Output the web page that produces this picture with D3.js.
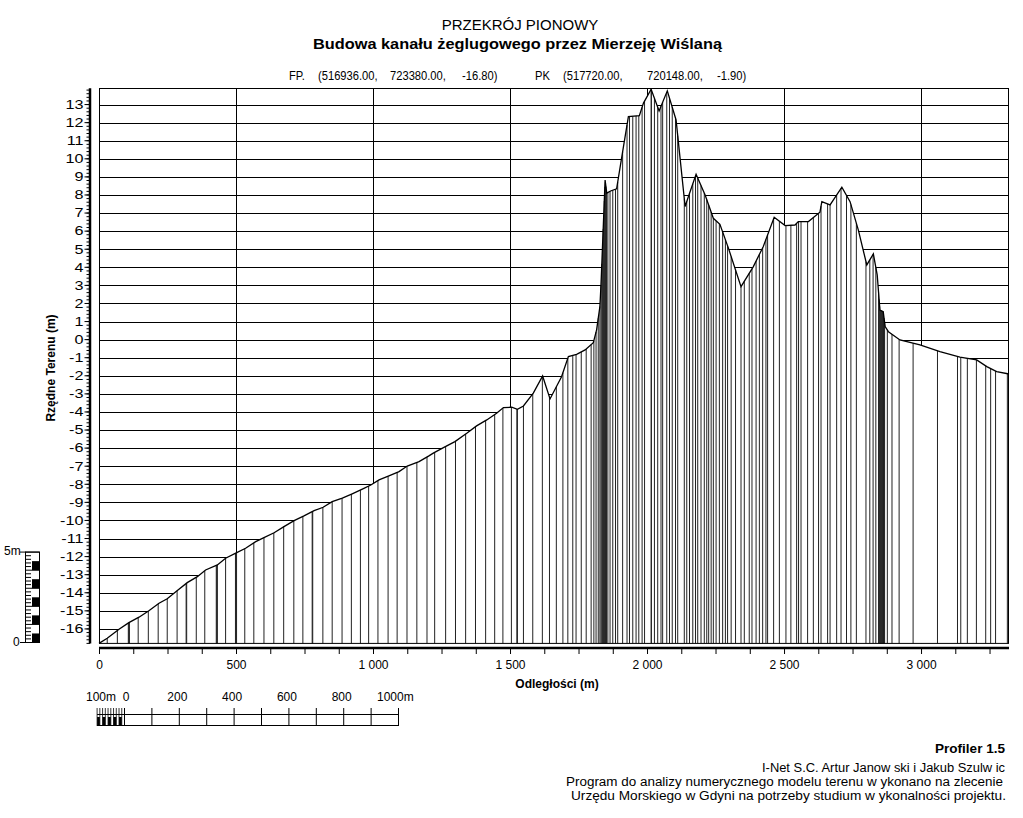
<!DOCTYPE html>
<html><head><meta charset="utf-8">
<script src="https://cdn.jsdelivr.net/npm/d3@7"></script>
<style>
body{margin:0;background:#fff}
svg{display:block}
text{font-family:"Liberation Sans",Arial,sans-serif;fill:#000}
</style>
</head><body>
<svg id="c" width="1023" height="818"></svg>
<script>
// ---------- DATA ----------
const titleMain = "PRZEKRÓJ PIONOWY";
const titleSub = "Budowa kanału żeglugowego przez Mierzeję Wiślaną";
const startPoint = ["FP.", "(516936.00,", "723380.00,", "-16.80)"];
const endPoint = ["PK", "(517720.00,", "720148.00,", "-1.90)"];

// profile vertices: distance (m) and terrain ordinate (m)
const profileDist = [0, 30, 73, 109, 146, 182, 219, 249, 286, 322, 359, 389, 432, 462, 499, 535, 572, 602, 639, 675,
  712, 748, 785, 818, 851, 888, 924, 961, 992, 1022, 1058, 1095, 1125, 1168, 1204, 1220, 1257, 1299, 1342, 1378,
  1415, 1451, 1476, 1506, 1527, 1549, 1585, 1619, 1646, 1688, 1713, 1743, 1774, 1804, 1816, 1828, 1832, 1847, 1853, 1867,
  1889, 1914, 1932, 1972, 1987, 2015, 2044, 2074, 2106, 2139, 2153, 2179, 2212, 2242, 2266, 2297, 2343, 2388, 2424, 2464,
  2504, 2540, 2552, 2589, 2631, 2638, 2668, 2711, 2741, 2771, 2802, 2826, 2840, 2850, 2862, 2869, 2881, 2923, 2996, 3069,
  3142, 3203, 3240, 3276, 3321];
const profileElev = [-16.80, -16.52, -16.02, -15.65, -15.35, -14.99, -14.58, -14.33, -13.88, -13.44, -13.11, -12.74, -12.46, -12.09, -11.81, -11.54, -11.17, -10.95, -10.68, -10.34,
  -10.01, -9.75, -9.46, -9.27, -8.96, -8.77, -8.53, -8.27, -8.04, -7.76, -7.54, -7.30, -6.99, -6.75, -6.43, -6.28, -5.97, -5.64, -5.18, -4.77,
  -4.44, -4.07, -3.76, -3.74, -3.85, -3.67, -2.96, -2.01, -3.28, -2.05, -0.94, -0.81, -0.57, -0.17, 0.54, 1.83, 3.03, 8.83, 8.10, 8.22,
  8.34, 10.67, 12.33, 12.39, 13.08, 13.85, 12.65, 13.76, 12.15, 7.36, 8.00, 9.15, 8.00, 6.71, 6.38, 5.06, 2.93, 4.04, 5.14, 6.77,
  6.31, 6.34, 6.53, 6.53, 7.05, 7.63, 7.45, 8.43, 7.63, 6.07, 4.13, 4.74, 3.58, 1.64, 1.55, 0.72, 0.44, -0.02, -0.29, -0.66,
  -0.97, -1.12, -1.49, -1.77, -1.90];

// distances (m) of the vertical hatch lines (sample points of the section)
const hatchDist = [30, 67, 107, 109, 111, 143, 180, 216, 249, 285, 318, 320, 355, 386, 428, 430, 432, 462, 498, 500, 502,
  532, 565, 602, 638, 674, 711, 744, 778, 780, 817, 851, 887, 921, 954, 984, 1018, 1055, 1088, 1124, 1160, 1197,
  1225, 1265, 1301, 1338, 1374, 1411, 1444, 1474, 1505, 1525, 1527, 1549, 1583, 1618, 1644, 1669, 1693, 1711, 1729,
  1741, 1760, 1778, 1796, 1806, 1814, 1822, 1828, 1832, 1835, 1838, 1840, 1842, 1844, 1846, 1848,
  1850, 1852, 1857, 1865, 1875, 1885, 1893, 1911, 1927, 1936, 1948, 1960, 1970, 1982, 1991, 2015, 2016, 2027, 2039,
  2051, 2057, 2072, 2082, 2092, 2104, 2112, 2136, 2145, 2155, 2167, 2177, 2185, 2197, 2209, 2218, 2225, 2234, 2242,
  2252, 2264, 2276, 2286, 2294, 2307, 2323, 2343, 2355, 2373, 2383, 2398, 2410, 2422, 2434, 2440, 2462, 2483, 2507,
  2525, 2546, 2553, 2562, 2586, 2607, 2626, 2635, 2659, 2668, 2692, 2708, 2728, 2744, 2764, 2799, 2813, 2825, 2835,
  2845, 2847, 2849, 2851, 2853, 2855, 2857, 2859, 2861, 2863, 2865, 2867, 2877, 2894, 2920, 2971, 3060, 3133, 3145,
  3169, 3202, 3236, 3254, 3272, 3315];

const xTickValues = [0, 500, 1000, 1500, 2000, 2500, 3000];
const xTickLabels = ["0", "500", "1 000", "1 500", "2 000", "2 500", "3 000"];
const yTickValues = [-16, -15, -14, -13, -12, -11, -10, -9, -8, -7, -6, -5, -4, -3, -2, -1, 0, 1, 2, 3, 4, 5, 6, 7, 8, 9, 10, 11, 12, 13];
const scaleBarLabels = ["0", "200", "400", "600", "800"];
const footer = ["I-Net S.C. Artur Janow ski i Jakub Szulw ic",
  "Program do analizy numerycznego modelu terenu w ykonano na zlecenie",
  "Urzędu Morskiego w  Gdyni na potrzeby studium w ykonalności projektu."];

// ---------- DRAW ----------
const svg = d3.select("#c");
const L = 99, R = 1009, T = 88.3, B = 643.4;
const x = d3.scaleLinear().domain([0, 3321]).range([L, R]);
const y = d3.scaleLinear().domain([-16.8, 13.9]).range([B, T]);
const pts = profileDist.map((d, i) => [d, profileElev[i]]);
function elevAt(d) {
  for (let i = 1; i < pts.length; i++) {
    if (d <= pts[i][0]) {
      const a = pts[i - 1], b = pts[i];
      return a[1] + (b[1] - a[1]) * (d - a[0]) / (b[0] - a[0]);
    }
  }
  return pts[pts.length - 1][1];
}

// titles
svg.append("text").attr("x", 520).attr("y", 30).attr("text-anchor", "middle")
  .style("font-size", "15px").text(titleMain);
svg.append("text").attr("x", 313).attr("y", 49).attr("textLength", 409).attr("lengthAdjust", "spacingAndGlyphs")
  .style("font-size", "14px").style("font-weight", "bold").text(titleSub);
const cx = [289, 318, 390, 462, 535, 563, 647, 717];
startPoint.concat(endPoint).forEach((s, i) => svg.append("text")
  .attr("transform", `translate(${cx[i]},80) scale(0.86,1)`).style("font-size", "13px").text(s));

// grid
const grid = svg.append("g");
grid.selectAll("line.h").data(yTickValues).join("line")
  .attr("x1", L).attr("x2", R).attr("y1", d => Math.round(y(d)) + 0.5).attr("y2", d => Math.round(y(d)) + 0.5)
  .attr("stroke", "#000").attr("stroke-width", 1);
grid.selectAll("line.v").data(xTickValues.slice(1)).join("line")
  .attr("y1", T).attr("y2", B).attr("x1", d => Math.round(x(d)) + 0.5).attr("x2", d => Math.round(x(d)) + 0.5)
  .attr("stroke", "#000").attr("stroke-width", 1);

// terrain area (white) covering grid
svg.append("path").datum(pts)
  .attr("d", d3.area().x(d => x(d[0])).y0(B).y1(d => y(d[1])))
  .attr("fill", "#fff");
// hatch
svg.append("g").selectAll("line").data(hatchDist).join("line")
  .attr("x1", d => x(d)).attr("x2", d => x(d)).attr("y1", B).attr("y2", d => y(elevAt(d)))
  .attr("stroke", "#222").attr("stroke-width", 1);
// profile line
svg.append("path").datum(pts)
  .attr("d", d3.line().x(d => x(d[0])).y(d => y(d[1])))
  .attr("fill", "none").attr("stroke", "#000").attr("stroke-width", 1.3).attr("stroke-linejoin", "miter");
// border
svg.append("rect").attr("x", L + 0.5).attr("y", 88.5).attr("width", R - L - 1).attr("height", B - 88.5)
  .attr("fill", "none").attr("stroke", "#000").attr("stroke-width", 1);

// y axis
const ya = svg.append("g").attr("transform", "translate(90,0)");
ya.append("line").attr("x1", 0).attr("x2", 0).attr("y1", T).attr("y2", B).attr("stroke", "#000").attr("stroke-width", 2.5);
const minor = d3.range(-84, 70).map(k => k / 5);
ya.selectAll("line.mn").data(minor).join("line")
  .attr("x1", -3.5).attr("x2", 0).attr("y1", d => y(d)).attr("y2", d => y(d)).attr("stroke", "#000").attr("stroke-width", 1);
ya.selectAll("line.mj").data(yTickValues).join("line")
  .attr("x1", -5.5).attr("x2", 0).attr("y1", d => y(d)).attr("y2", d => y(d)).attr("stroke", "#000").attr("stroke-width", 1);
ya.selectAll("text").data(yTickValues).join("text")
  .attr("transform", d => `translate(-6.5,${y(d) + 4.3}) scale(1.35,1)`)
  .attr("text-anchor", "end").style("font-size", "12px").text(d => String(d));

// x axis
const xa = svg.append("g").attr("transform", "translate(0,648)")
  .call(d3.axisBottom(x).tickValues(d3.range(0, 3321, 125)).tickSize(6).tickSizeOuter(0)
    .tickFormat(d => { const i = xTickValues.indexOf(d); return i >= 0 ? xTickLabels[i] : ""; }));
xa.select(".domain").attr("stroke-width", 2.5).attr("d", `M${L},0H${R}`);
xa.selectAll(".tick line").attr("stroke-width", 1);
xa.selectAll(".tick text").attr("y", 12).style("font-size", "12px").style("font-family", "'Liberation Sans',Arial,sans-serif");

// axis titles
svg.append("text").attr("x", 557).attr("y", 688).attr("text-anchor", "middle")
  .style("font-size", "12px").style("font-weight", "bold").text("Odległości (m)");
svg.append("text").attr("transform", "translate(55,368) rotate(-90)").attr("text-anchor", "middle")
  .style("font-size", "12px").style("font-weight", "bold").text("Rzędne Terenu (m)");

// left vertical 5 m scale bar
const unit = y(0) - y(1);
const sb = svg.append("g");
const sb0 = 642.5, sbTop = sb0 - 5 * unit;
sb.append("rect").attr("x", 25.5).attr("y", sbTop).attr("width", 14).attr("height", 5 * unit)
  .attr("fill", "#fff").attr("stroke", "#000");
[0, 1, 2, 3, 4].forEach(i => sb.append("rect").attr("x", 32).attr("y", sb0 - (i + 0.5) * unit)
  .attr("width", 7.5).attr("height", 0.5 * unit).attr("fill", "#000"));
d3.range(0, 26).forEach(k => {
  const yy = sb0 - k * 0.2 * unit;
  sb.append("line").attr("x1", 25.5).attr("x2", k % 5 === 0 ? 39.5 : 31).attr("y1", yy).attr("y2", yy)
    .attr("stroke", "#000").attr("stroke-width", 1);
});
sb.append("line").attr("x1", 20).attr("x2", 26).attr("y1", sbTop).attr("y2", sbTop).attr("stroke", "#000");
sb.append("line").attr("x1", 20).attr("x2", 26).attr("y1", sb0).attr("y2", sb0).attr("stroke", "#000");
sb.append("text").attr("x", 4).attr("y", sbTop + 3).style("font-size", "12px").text("5m");
sb.append("text").attr("x", 13).attr("y", sb0 + 3).style("font-size", "12px").text("0");

// bottom horizontal scale bar
const hs = svg.append("g");
const px100 = x(100) - x(0);
const s0 = 124.5;
hs.append("line").attr("x1", s0 - px100).attr("x2", s0 + 10 * px100).attr("y1", 714.5).attr("y2", 714.5).attr("stroke", "#000");
hs.append("line").attr("x1", s0 - px100).attr("x2", s0 + 10 * px100).attr("y1", 725.5).attr("y2", 725.5).attr("stroke", "#000");
d3.range(0, 11).forEach(i => hs.append("line").attr("x1", s0 + i * px100).attr("x2", s0 + i * px100)
  .attr("y1", 708).attr("y2", 726).attr("stroke", "#000"));
d3.range(0, 10).forEach(j => {
  const xx = s0 - px100 + j * px100 / 10;
  hs.append("line").attr("x1", xx).attr("x2", xx).attr("y1", 708).attr("y2", 726).attr("stroke", "#000").attr("stroke-width", 0.8);
  if (j % 2 === 0) hs.append("rect").attr("x", xx).attr("y", 717).attr("width", px100 / 10).attr("height", 9).attr("fill", "#000");
});
hs.append("text").attr("x", 86).attr("y", 701).style("font-size", "12px").text("100m");
scaleBarLabels.forEach((t, i) => hs.append("text").attr("x", s0 + i * 2 * px100 + (i === 0 ? 1.5 : -2)).attr("y", 701)
  .attr("text-anchor", "middle").style("font-size", "12px").text(t));
hs.append("text").attr("x", 377).attr("y", 701).style("font-size", "12px").text("1000m");

// footer
svg.append("text").attr("x", 935).attr("y", 753).attr("textLength", 70).attr("lengthAdjust", "spacingAndGlyphs")
  .style("font-size", "13px").style("font-weight", "bold").text("Profiler 1.5");
const fx = [762, 566, 571], fw = [243, 437, 435], fy = [772, 786, 800];
footer.forEach((t, i) => svg.append("text").attr("x", fx[i]).attr("y", fy[i]).attr("textLength", fw[i])
  .attr("lengthAdjust", "spacingAndGlyphs").style("font-size", "12px").text(t));
</script>
</body></html>
